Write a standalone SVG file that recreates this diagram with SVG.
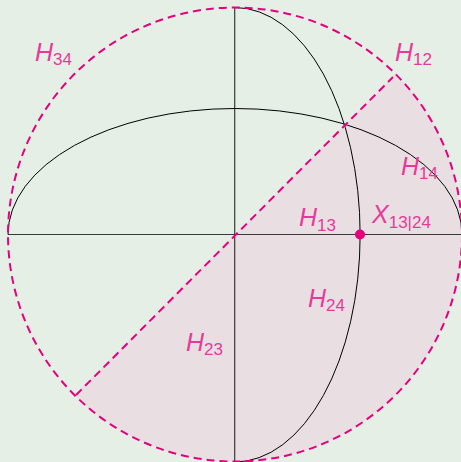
<svg xmlns="http://www.w3.org/2000/svg" width="461" height="462" viewBox="0 0 461 462">
<style>
.lbl{font-family:"Liberation Sans","DejaVu Sans",sans-serif;fill:#e8399a;font-size:25px}
.v{font-style:italic}
.s{font-size:17px}
.dash{fill:none;stroke:#e6007e;stroke-width:2;stroke-dasharray:8 5}
.ln{fill:none;stroke:#000;stroke-width:1}
.ax{fill:none;stroke:#3a3a3a;stroke-width:1.2}
</style>
<rect width="461" height="462" fill="#e5efe6"/>
<g id="shade">
<path d="M395.5,74 A227,227 0 0 1 462,234.5 A227,227 0 0 1 74.5,395 Z" fill="#e9dfe2"/>
</g>
<g id="connectors">
<line class="ax" x1="8" y1="234.5" x2="462" y2="234.5"/>
<line class="ax" x1="234.7" y1="7.5" x2="234.7" y2="462"/>
<path class="ln" d="M8,234.5 A227,126 0 0 1 462,234.5"/>
<path class="ln" d="M234.7,7.5 A125.3,227 0 0 1 234.7,462"/>
<circle class="dash" cx="235" cy="234.5" r="227"/>
<line class="dash" x1="76" y1="395" x2="393" y2="77"/>
</g>
<g id="X13_24">
<circle cx="360" cy="234.5" r="5" fill="#e6007e"/>
<text class="lbl" x="372" y="223"><tspan class="v">X</tspan><tspan class="s" dy="5">13|24</tspan></text>
</g>
<g id="H34"><text class="lbl" x="35" y="61"><tspan class="v">H</tspan><tspan class="s" dy="4">34</tspan></text></g>
<g id="H12"><text class="lbl" x="395" y="61"><tspan class="v">H</tspan><tspan class="s" dy="4">12</tspan></text></g>
<g id="H14"><text class="lbl" x="401" y="175"><tspan class="v">H</tspan><tspan class="s" dy="4">14</tspan></text></g>
<g id="H13"><text class="lbl" x="299" y="226"><tspan class="v">H</tspan><tspan class="s" dy="5">13</tspan></text></g>
<g id="H23"><text class="lbl" x="186" y="351"><tspan class="v">H</tspan><tspan class="s" dy="4">23</tspan></text></g>
<g id="H24"><text class="lbl" x="308" y="307"><tspan class="v">H</tspan><tspan class="s" dy="4">24</tspan></text></g>
</svg>
